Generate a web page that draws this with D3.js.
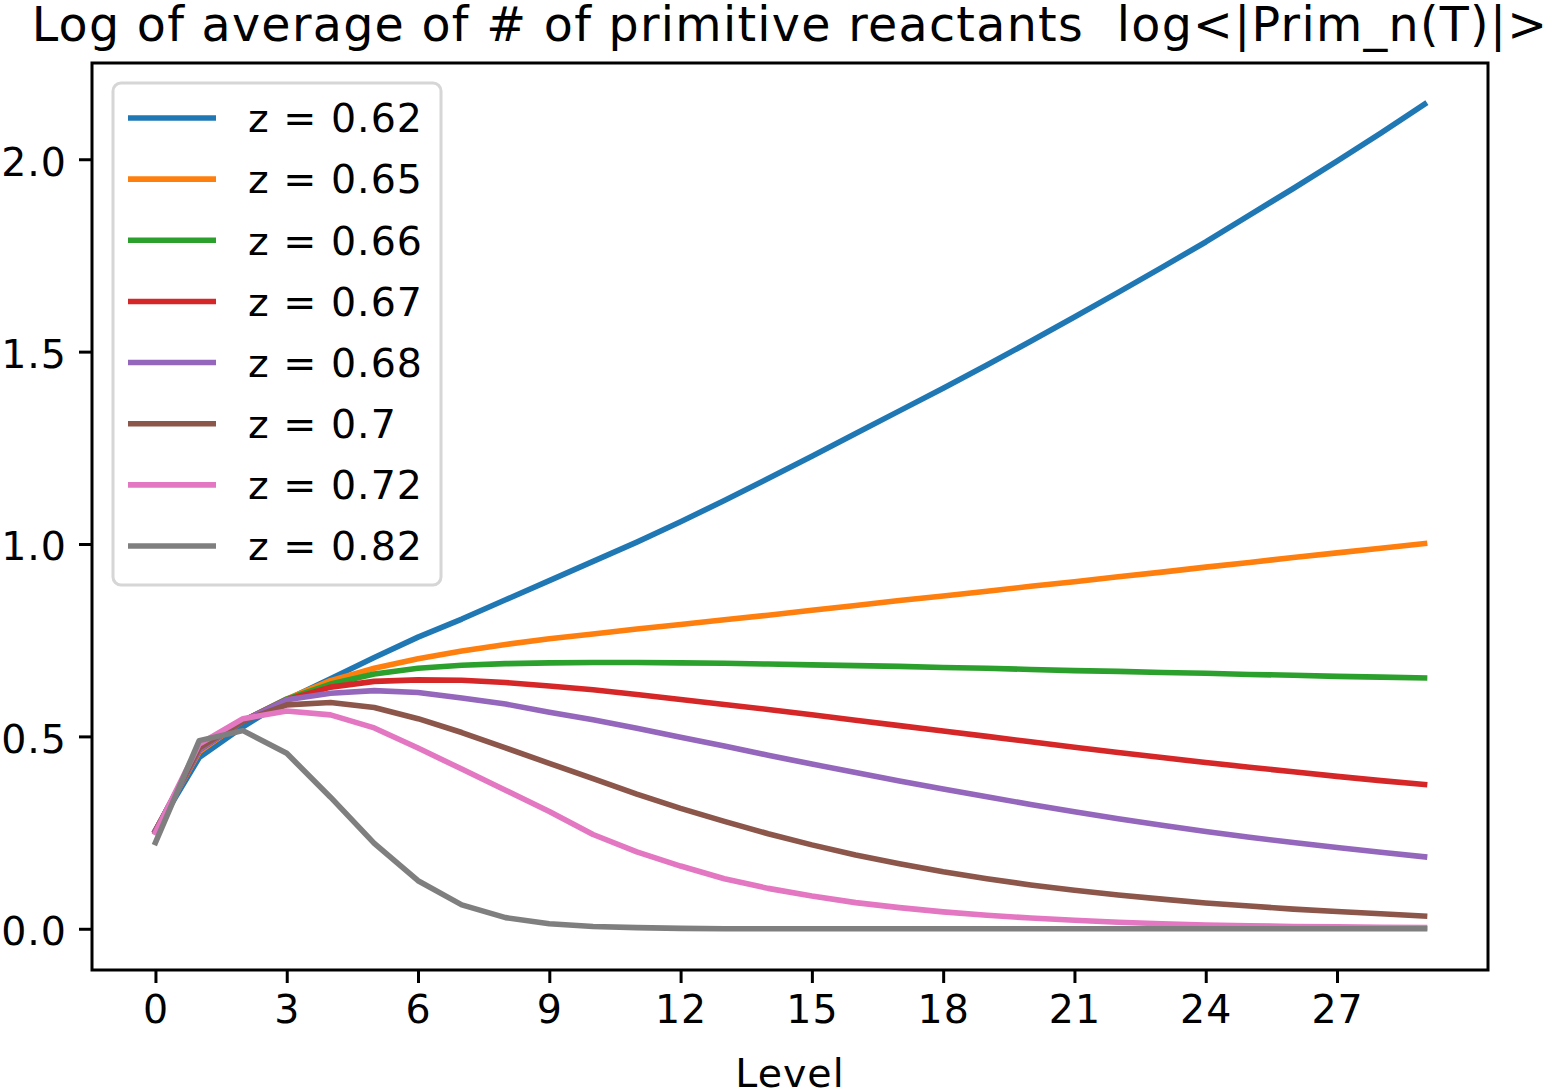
<!DOCTYPE html>
<html>
<head>
<meta charset="utf-8">
<script src="https://cdn.jsdelivr.net/npm/d3@7"></script>
<style>
  body { margin: 0; background: #fff; }
  text { font-family: "DejaVu Sans", sans-serif; }
</style>
</head>
<body>
<div id="chart"></div>
<script>
// levels on the x axis
const levels = [0,1,2,3,4,5,6,7,8,9,10,11,12,13,14,15,16,17,18,19,20,21,22,23,24,25,26,27,28,29]

// one array per z value
const z062 = [0.255,0.445,0.525,0.595,0.65,0.705,0.758,0.805,0.855,0.905,0.955,1.005,1.058,1.113,1.17,1.228,1.287,1.346,1.405,1.465,1.527,1.59,1.654,1.719,1.785,1.855,1.924,1.995,2.068,2.143]
const z065 = [0.255,0.46,0.54,0.597,0.645,0.677,0.702,0.722,0.739,0.754,0.766,0.779,0.791,0.803,0.815,0.828,0.84,0.853,0.865,0.877,0.89,0.902,0.915,0.927,0.94,0.952,0.965,0.977,0.989,1.001]
const z066 = [0.255,0.465,0.54,0.597,0.636,0.662,0.677,0.685,0.689,0.691,0.692,0.692,0.691,0.69,0.688,0.686,0.684,0.682,0.679,0.677,0.674,0.671,0.669,0.666,0.664,0.661,0.659,0.656,0.654,0.652]
const z067 = [0.255,0.465,0.54,0.595,0.628,0.643,0.647,0.646,0.64,0.631,0.621,0.609,0.596,0.583,0.57,0.556,0.542,0.528,0.514,0.5,0.486,0.472,0.458,0.445,0.432,0.42,0.408,0.396,0.385,0.375]
const z068 = [0.255,0.465,0.54,0.595,0.612,0.619,0.614,0.6,0.584,0.563,0.543,0.521,0.498,0.475,0.451,0.428,0.406,0.384,0.363,0.343,0.323,0.304,0.286,0.269,0.253,0.238,0.224,0.211,0.199,0.187]
const z070 = [0.252,0.47,0.54,0.582,0.588,0.575,0.546,0.51,0.47,0.43,0.39,0.35,0.313,0.279,0.247,0.218,0.192,0.169,0.148,0.13,0.114,0.1,0.088,0.077,0.067,0.059,0.051,0.045,0.039,0.033]
const z072 = [0.25,0.48,0.546,0.566,0.556,0.522,0.47,0.415,0.36,0.305,0.245,0.2,0.163,0.13,0.105,0.085,0.068,0.055,0.044,0.035,0.028,0.022,0.017,0.013,0.01,0.008,0.006,0.005,0.004,0.003]
const z082 = [0.224,0.489,0.515,0.456,0.342,0.222,0.125,0.062,0.029,0.013,0.006,0.003,0.001,0,0,0,0,0,0,0,0,0,0,0,0,0,0,0,0,0]

const seriesLabels = ["z = 0.62","z = 0.65","z = 0.66","z = 0.67","z = 0.68","z = 0.7","z = 0.72","z = 0.82"]
const seriesValues = [z062, z065, z066, z067, z068, z070, z072, z082]
const xTicks = [0,3,6,9,12,15,18,21,24,27]
const yTicks = [0,0.5,1.0,1.5,2.0]

const width = 1543
const height = 1089
const plot = {left: 92, right: 1488, top: 63, bottom: 970}
const colors = d3.schemeCategory10

const svg = d3.select('#chart').append('svg')
  .attr('width', width).attr('height', height)

// matplotlib style 5% margins around the data
const xExt = d3.extent(levels)
const xPad = (xExt[1] - xExt[0]) * 0.05
const yMin = d3.min(seriesValues, s => d3.min(s))
const yMax = d3.max(seriesValues, s => d3.max(s))
const yPad = (yMax - yMin) * 0.05

const xScale = d3.scaleLinear()
  .domain([xExt[0] - xPad, xExt[1] + xPad])
  .range([plot.left, plot.right])
const yScale = d3.scaleLinear()
  .domain([yMin - yPad, yMax + yPad])
  .range([plot.bottom, plot.top])

const line = d3.line()
  .x((d, i) => xScale(levels[i]))
  .y(d => yScale(d))

// lines
svg.append('g').selectAll('path').data(seriesValues)
  .enter().append('path')
  .attr('d', d => line(d))
  .attr('fill', 'none')
  .attr('stroke', (d, i) => colors[i])
  .attr('stroke-width', 5.6)
  .attr('stroke-linejoin', 'round')
  .attr('stroke-linecap', 'square')

// axes
const xAxis = d3.axisBottom(xScale).tickValues(xTicks).tickSize(13).tickPadding(12).tickFormat(d3.format('d'))
const yAxis = d3.axisLeft(yScale).tickValues(yTicks).tickSize(13).tickPadding(12).tickFormat(d3.format('.1f'))

const gx = svg.append('g')
  .attr('transform', 'translate(0,' + plot.bottom + ')')
  .call(xAxis)
const gy = svg.append('g')
  .attr('transform', 'translate(' + plot.left + ',0)')
  .call(yAxis)

;[gx, gy].forEach(g => {
  g.select('.domain').remove()
  g.selectAll('.tick line').attr('stroke', '#000').attr('stroke-width', 3)
  g.selectAll('.tick text').attr('font-size', '39.5px').attr('fill', '#000')
    .attr('font-family', 'DejaVu Sans').attr('letter-spacing', 1)
})
gx.selectAll('.tick text').attr('dy', '0.71em')
gy.selectAll('.tick text').attr('dy', '0.40em')

// frame
svg.append('rect')
  .attr('x', plot.left).attr('y', plot.top)
  .attr('width', plot.right - plot.left).attr('height', plot.bottom - plot.top)
  .attr('fill', 'none').attr('stroke', '#000').attr('stroke-width', 3)

// title and axis label
svg.append('text')
  .attr('x', (plot.left + plot.right) / 2).attr('y', 41)
  .attr('text-anchor', 'middle').attr('font-size', '47.5px')
  .attr('letter-spacing', 1.3)
  .attr('xml:space', 'preserve').style('white-space', 'pre')
  .text('Log of average of # of primitive reactants  log<|Prim_n(T)|>')

svg.append('text')
  .attr('x', (plot.left + plot.right) / 2).attr('y', 1087)
  .attr('text-anchor', 'middle').attr('font-size', '39.5px')
  .attr('letter-spacing', 1)
  .text('Level')

// legend
const legend = svg.append('g')
legend.append('rect')
  .attr('x', 113).attr('y', 83).attr('width', 328).attr('height', 502)
  .attr('rx', 8).attr('ry', 8)
  .attr('fill', '#fff').attr('fill-opacity', 0.8)
  .attr('stroke', '#d6d6d6').attr('stroke-width', 3)

const rowY = d3.scaleLinear().domain([0, seriesLabels.length - 1]).range([118, 546])
const items = legend.selectAll('g.item').data(seriesLabels).enter()
  .append('g').attr('class', 'item')
  .attr('transform', (d, i) => 'translate(0,' + rowY(i) + ')')
items.append('line')
  .attr('x1', 128).attr('x2', 216).attr('y1', 0).attr('y2', 0)
  .attr('stroke', (d, i) => colors[i]).attr('stroke-width', 5.6)
  .attr('stroke-linecap', 'butt')
items.append('text')
  .attr('x', 248).attr('y', 0).attr('dy', '0.36em')
  .attr('font-size', '39.5px').attr('letter-spacing', 1)
  .text(d => d)
</script>
</body>
</html>
